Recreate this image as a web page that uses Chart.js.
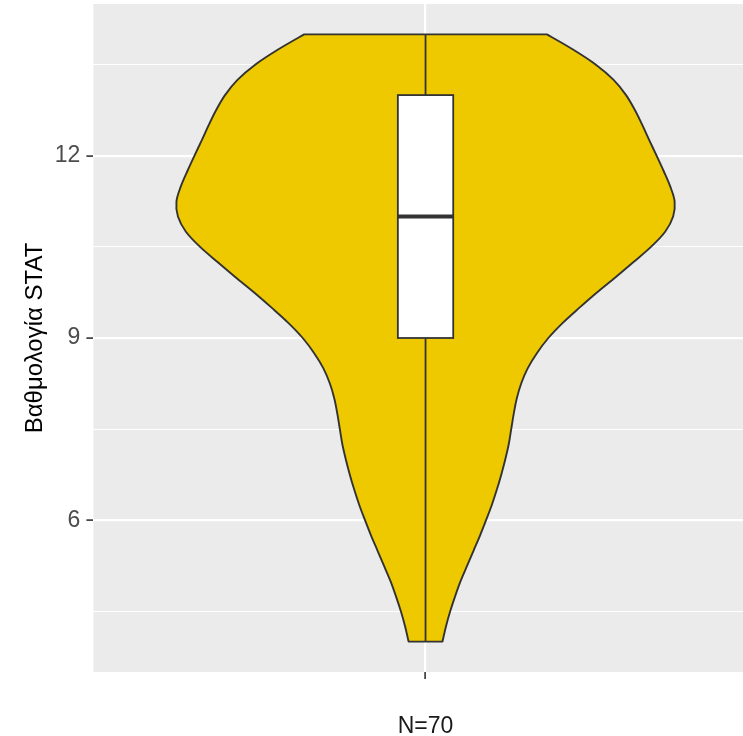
<!DOCTYPE html>
<html>
<head>
<meta charset="utf-8">
<script src="https://cdn.jsdelivr.net/npm/chart.js@4/dist/chart.umd.min.js"></script>
<style>
  html, body { margin: 0; padding: 0; background: #ffffff; }
  canvas { display: block; }
</style>
</head>
<body>
<canvas id="chart" width="743" height="736"></canvas>
<script>
// Group on the x axis
const categories = ['N=70'];

// Kernel density of the STAT score, evaluated on a grid of scores (relative units)
const scoreGrid = [4, 4.25, 4.5, 4.75, 5, 5.25, 5.5, 5.75, 6, 6.25, 6.5, 6.75, 7, 7.25, 7.5, 7.75,
  8, 8.25, 8.5, 8.75, 9, 9.25, 9.5, 9.75, 10, 10.25, 10.5, 10.75, 11, 11.25, 11.5, 11.75,
  12, 12.25, 12.5, 12.75, 13, 13.25, 13.5, 13.75, 14];
const density = [0.068, 0.082, 0.099, 0.119, 0.141, 0.167, 0.193, 0.219, 0.243, 0.266, 0.286,
  0.304, 0.320, 0.334, 0.344, 0.354, 0.366, 0.384, 0.410, 0.447, 0.493, 0.551, 0.618, 0.688,
  0.763, 0.835, 0.905, 0.962, 0.994, 1.000, 0.982, 0.956, 0.928, 0.899, 0.871, 0.841, 0.805,
  0.755, 0.684, 0.592, 0.487];

// Five-number summary: lower whisker, Q1, median, Q3, upper whisker
const boxValues = [4, 9, 11, 13, 14];

// Axis ticks
const yMajorTicks = [6, 9, 12];
const yMinorTicks = [4.5, 7.5, 10.5, 13.5];

const FONT = "'Liberation Sans', Arial, sans-serif";
const VIOLIN_FILL = '#EEC900';
const OUTLINE = '#333333';
const GROUP_POS = 1;        // x position of the single group
const VIOLIN_HALF = 0.45;   // half of the violin width in x units
const BOX_HALF = 0.05;      // half of the box width in x units

// Smooth curve (Catmull-Rom as cubic Béziers) through pixel points
function curveThrough(ctx, pts) {
  for (let i = 0; i < pts.length - 1; i++) {
    const p0 = pts[i - 1] || pts[i];
    const p1 = pts[i];
    const p2 = pts[i + 1];
    const p3 = pts[i + 2] || pts[i + 1];
    ctx.bezierCurveTo(
      p1.x + (p2.x - p0.x) / 6, p1.y + (p2.y - p0.y) / 6,
      p2.x - (p3.x - p1.x) / 6, p2.y - (p3.y - p1.y) / 6,
      p2.x, p2.y
    );
  }
}

const panelBackground = {
  id: 'panelBackground',
  beforeDraw(chart) {
    const { ctx, chartArea: a } = chart;
    ctx.save();
    ctx.fillStyle = '#EBEBEB';
    ctx.fillRect(a.left, a.top, a.right - a.left, a.bottom - a.top);
    ctx.restore();
  }
};

const violinBox = {
  id: 'violinBox',
  beforeDatasetsDraw(chart) {
    const { ctx, chartArea: a, scales: { x, y } } = chart;
    const dMax = Math.max(...density);
    const leftPts = [], rightPts = [];
    scoreGrid.forEach((v, i) => {
      const half = density[i] / dMax * VIOLIN_HALF;
      const py = y.getPixelForValue(v);
      leftPts.push({ x: x.getPixelForValue(GROUP_POS - half), y: py });
      rightPts.push({ x: x.getPixelForValue(GROUP_POS + half), y: py });
    });

    ctx.save();
    ctx.beginPath();
    ctx.rect(a.left, a.top, a.right - a.left, a.bottom - a.top);
    ctx.clip();

    // violin outline: left side upward, right side downward
    ctx.beginPath();
    ctx.moveTo(leftPts[0].x, leftPts[0].y);
    curveThrough(ctx, leftPts);
    const rightDown = rightPts.slice().reverse();
    ctx.lineTo(rightDown[0].x, rightDown[0].y);
    curveThrough(ctx, rightDown);
    ctx.closePath();
    ctx.fillStyle = VIOLIN_FILL;
    ctx.fill();
    ctx.lineWidth = 1.9;
    ctx.strokeStyle = OUTLINE;
    ctx.lineJoin = 'round';
    ctx.stroke();

    // boxplot
    const [lo, q1, med, q3, hi] = boxValues;
    const cx = x.getPixelForValue(GROUP_POS);
    const bl = x.getPixelForValue(GROUP_POS - BOX_HALF);
    const br = x.getPixelForValue(GROUP_POS + BOX_HALF);
    ctx.lineJoin = 'miter';
    ctx.lineWidth = 1.8;
    ctx.strokeStyle = OUTLINE;
    ctx.beginPath();
    ctx.moveTo(cx, y.getPixelForValue(lo));
    ctx.lineTo(cx, y.getPixelForValue(q1));
    ctx.moveTo(cx, y.getPixelForValue(q3));
    ctx.lineTo(cx, y.getPixelForValue(hi));
    ctx.stroke();

    const yTop = y.getPixelForValue(q3);
    const yBot = y.getPixelForValue(q1);
    ctx.fillStyle = '#ffffff';
    ctx.fillRect(bl, yTop, br - bl, yBot - yTop);
    ctx.strokeRect(bl, yTop, br - bl, yBot - yTop);

    ctx.lineWidth = 4;
    ctx.beginPath();
    ctx.moveTo(bl, y.getPixelForValue(med));
    ctx.lineTo(br, y.getPixelForValue(med));
    ctx.stroke();
    ctx.restore();
  }
};

const yTickValues = yMinorTicks.concat(yMajorTicks).sort((p, q) => p - q);

new Chart(document.getElementById('chart'), {
  type: 'scatter',
  data: { datasets: [] },
  plugins: [panelBackground, violinBox],
  options: {
    responsive: false,
    animation: false,
    devicePixelRatio: 1,
    layout: { padding: { top: 4, right: 0, bottom: 0, left: 0 } },
    plugins: { legend: { display: false }, tooltip: { enabled: false } },
    scales: {
      x: {
        type: 'linear',
        min: 0.4,
        max: 1.5735,
        afterBuildTicks(scale) { scale.ticks = [{ value: GROUP_POS }]; },
        afterFit(scale) {
          scale.height = 64;
          scale.paddingLeft = 0; scale.paddingRight = 0;
          scale.paddingTop = 0; scale.paddingBottom = 0;
        },
        border: { display: false },
        grid: { color: '#ffffff', lineWidth: 2.2, tickLength: 7, tickColor: OUTLINE, tickWidth: 1.6 },
        ticks: {
          autoSkip: false,
          maxRotation: 0,
          padding: 34,
          color: '#1a1a1a',
          font: { family: FONT, size: 23 },
          callback: () => categories[0]
        }
      },
      y: {
        type: 'linear',
        min: 3.5,
        max: 14.5,
        afterBuildTicks(scale) { scale.ticks = yTickValues.map(v => ({ value: v })); },
        afterFit(scale) {
          scale.width = 93.4;
          scale.paddingLeft = 0; scale.paddingRight = 0;
          scale.paddingTop = 0; scale.paddingBottom = 0;
        },
        border: { display: false },
        grid: {
          color: '#ffffff',
          lineWidth: c => yMajorTicks.includes(c.tick.value) ? 2.2 : 1.1,
          tickLength: 7,
          tickColor: c => yMajorTicks.includes(c.tick.value) ? OUTLINE : 'rgba(0,0,0,0)',
          tickWidth: 1.6
        },
        ticks: {
          autoSkip: false,
          padding: 6,
          color: '#4D4D4D',
          font: { family: FONT, size: 23 },
          callback: v => yMajorTicks.includes(v) ? String(v) : ''
        },
        title: {
          display: true,
          text: 'Βαθμολογία STAT',
          color: '#000000',
          font: { family: FONT, size: 24 },
          padding: { top: 20.6, bottom: 0 }
        }
      }
    }
  }
});
</script>
</body>
</html>
